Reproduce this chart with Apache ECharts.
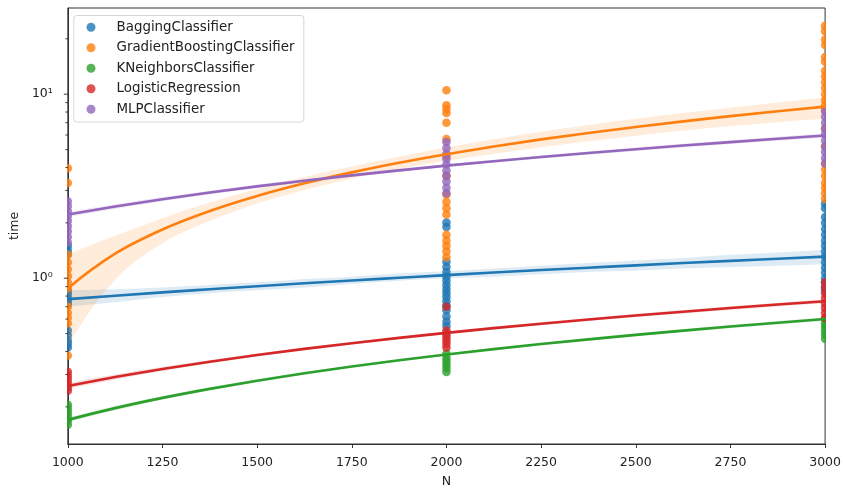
<!DOCTYPE html>
<html><head><meta charset="utf-8">
<script src="https://cdn.jsdelivr.net/npm/echarts@6/dist/echarts.min.js"></script>
<style>html,body{margin:0;padding:0;background:#fff}#c{width:844px;height:493px}</style>
</head><body><div id="c"></div>
<script>
// ---------- data ----------
const categories = ['BaggingClassifier','GradientBoostingClassifier','KNeighborsClassifier','LogisticRegression','MLPClassifier'];
const sampleSizes = [1000, 2000, 3000];

// observed times per sample size (N=1000, 2000, 3000)
const baggingTimes = [
  [1.50,1.42,1.35,0.86,0.82,0.78,0.75,0.72,0.52,0.49,0.46,0.44,0.42],
  [2.01,1.90,1.23,1.15,1.08,1.02,0.97,0.92,0.87,0.83,0.79,0.75,0.71,0.67,0.62,0.58,0.55],
  [2.55,2.40,2.15,2.00,1.85,1.72,1.60,1.50,1.40,1.31,1.22,1.14,1.07,1.00,0.95,0.90,0.86]
];
const boostingTimes = [
  [3.96,3.29,1.34,1.22,1.12,1.03,0.95,0.88,0.70,0.65,0.61,0.57,0.38],
  [10.5,8.7,8.3,7.9,7.0,5.7,4.6,3.6,2.85,2.6,2.4,2.22,1.72,1.6,1.5,1.4,1.3],
  [23.5,22.0,19.8,18.5,15.9,15.0,13.4,12.5,11.6,10.8,10.0,9.3,8.7,8.3,6.5,5.2,4.2,3.9,3.6,3.3,3.1,2.9,2.7]
];
const knnTimes = [
  [0.205,0.195,0.186,0.177,0.168,0.160],
  [0.39,0.37,0.355,0.34,0.325,0.31],
  [0.60,0.57,0.545,0.52,0.495,0.47]
];
const logregTimes = [
  [0.31,0.295,0.282,0.268,0.256,0.245],
  [0.70,0.52,0.50,0.48,0.46,0.44,0.42],
  [0.95,0.89,0.83,0.78,0.73,0.69,0.65,0.61]
];
const mlpTimes = [
  [2.62,2.47,2.32,2.18,2.05,1.92,1.80,1.68,1.57],
  [5.5,5.1,4.75,4.45,4.15,3.85,3.6,3.35,3.1,2.9],
  [8.1,7.55,7.0,6.5,6.05,5.6,5.2,4.85,4.5,4.2]
];

// regression lines and confidence bands
const fitN = [1000,1125,1250,1375,1500,1625,1750,1875,2000,2125,2250,2375,2500,2625,2750,2875,3000];
const baggingFit  = [0.770,0.804,0.838,0.871,0.905,0.939,0.973,1.006,1.040,1.074,1.108,1.141,1.175,1.209,1.243,1.276,1.310];
const baggingLow  = [0.70,0.74,0.79,0.83,0.86,0.89,0.93,0.97,1.00,1.02,1.05,1.08,1.10,1.13,1.15,1.17,1.19];
const baggingHigh = [0.86,0.87,0.89,0.92,0.95,0.99,1.02,1.06,1.09,1.13,1.17,1.21,1.25,1.29,1.34,1.38,1.43];
const boostingFit  = [0.88,1.36,1.84,2.32,2.80,3.28,3.76,4.24,4.72,5.20,5.68,6.16,6.64,7.12,7.60,8.08,8.56];
const boostingLow  = [0.43,0.98,1.55,2.05,2.55,3.02,3.48,3.92,4.35,4.75,5.15,5.55,5.95,6.35,6.70,7.05,7.35];
const boostingHigh = [1.35,1.70,2.12,2.58,3.05,3.55,4.05,4.57,5.15,5.70,6.25,6.80,7.35,7.90,8.45,9.00,9.60];
const knnFit  = [0.1700,0.1969,0.2238,0.2506,0.2775,0.3044,0.3313,0.3581,0.3850,0.4119,0.4388,0.4656,0.4925,0.5194,0.5463,0.5731,0.6000];
const knnLow  = [0.165,0.192,0.219,0.246,0.273,0.299,0.326,0.353,0.380,0.406,0.432,0.458,0.484,0.509,0.535,0.561,0.586];
const knnHigh = [0.175,0.202,0.229,0.256,0.283,0.309,0.336,0.363,0.390,0.418,0.446,0.474,0.502,0.529,0.557,0.585,0.614];
const logregFit  = [0.2600,0.2906,0.3213,0.3519,0.3825,0.4131,0.4438,0.4744,0.5050,0.5356,0.5663,0.5969,0.6275,0.6581,0.6888,0.7194,0.7500];
const logregLow  = [0.250,0.282,0.313,0.345,0.376,0.406,0.437,0.467,0.497,0.527,0.556,0.586,0.615,0.644,0.673,0.702,0.731];
const logregHigh = [0.270,0.300,0.329,0.359,0.390,0.420,0.451,0.481,0.513,0.545,0.576,0.608,0.641,0.672,0.705,0.736,0.769];
const mlpFit  = [2.220,2.454,2.688,2.921,3.155,3.389,3.623,3.856,4.090,4.324,4.558,4.791,5.025,5.259,5.493,5.726,5.960];
const mlpLow  = [2.15,2.38,2.62,2.85,3.09,3.32,3.55,3.79,4.02,4.24,4.47,4.69,4.92,5.14,5.36,5.58,5.80];
const mlpHigh = [2.29,2.52,2.76,2.99,3.23,3.46,3.69,3.93,4.16,4.40,4.65,4.89,5.14,5.38,5.62,5.88,6.12];

const yMajorTicks = [1, 10];
const yMinorTicks = [0.2,0.3,0.4,0.5,0.6,0.7,0.8,0.9,2,3,4,5,6,7,8,9,20];

// ---------- style ----------
const FONT = 'DejaVu Sans';
const palette = ['#1f77b4','#ff7f0e','#2ca02c','#d62728','#9467bd'];
const INK = '#222';
function rgba(hex, a){
  const n = parseInt(hex.slice(1),16);
  return 'rgba('+((n>>16)&255)+','+((n>>8)&255)+','+(n&255)+','+a+')';
}
const groups = [
  {times: baggingTimes,  fit: baggingFit,  low: baggingLow,  high: baggingHigh},
  {times: boostingTimes, fit: boostingFit, low: boostingLow, high: boostingHigh},
  {times: knnTimes,      fit: knnFit,      low: knnLow,      high: knnHigh},
  {times: logregTimes,   fit: logregFit,   low: logregLow,   high: logregHigh},
  {times: mlpTimes,      fit: mlpFit,      low: mlpLow,      high: mlpHigh}
];

// Catmull-Rom cubic segments through pixel points (quadratic end tangents)
function curveThrough(pts){
  const n = pts.length;
  const ext = (a, b, c) => [3 * a[0] - 3 * b[0] + c[0], 3 * a[1] - 3 * b[1] + c[1]];
  const P = k => {
    if (k < 0) return n >= 3 ? ext(pts[0], pts[1], pts[2]) : pts[0];
    if (k >= n) return n >= 3 ? ext(pts[n - 1], pts[n - 2], pts[n - 3]) : pts[n - 1];
    return pts[k];
  };
  let d = '';
  for (let k = 0; k < n - 1; k++){
    const p0 = P(k - 1), p1 = P(k), p2 = P(k + 1), p3 = P(k + 2);
    const c1 = [p1[0] + (p2[0] - p0[0]) / 6, p1[1] + (p2[1] - p0[1]) / 6];
    const c2 = [p2[0] - (p3[0] - p1[0]) / 6, p2[1] - (p3[1] - p1[1]) / 6];
    d += ' C' + c1[0] + ',' + c1[1] + ' ' + c2[0] + ',' + c2[1] + ' ' + p2[0] + ',' + p2[1];
  }
  return d;
}

const series = [];
groups.forEach((g, i) => {
  const pts = [];
  g.times.forEach((arr, j) => arr.forEach(v => pts.push([sampleSizes[j], v])));
  series.push({
    type: 'custom', name: categories[i], data: pts, clip: true, z: 2, silent: true,
    itemStyle: {color: rgba(palette[i], 0.8)},
    renderItem: function(params, api){
      const p = api.coord([api.value(0), api.value(1)]);
      return {type: 'circle', shape: {cx: p[0], cy: p[1], r: 4.3}, style: {fill: rgba(palette[i], 0.8)}};
    }
  });
  series.push({
    type: 'custom', name: categories[i] + ' ci', data: [[fitN[0], g.fit[0]]], z: 2, silent: true, clip: true,
    renderItem: function(params, api){
      const upper = g.high.map((v, k) => api.coord([fitN[k], v]));
      const lower = g.low.map((v, k) => api.coord([fitN[k], v])).reverse();
      const d = 'M' + upper[0][0] + ',' + upper[0][1] + curveThrough(upper) +
                ' L' + lower[0][0] + ',' + lower[0][1] + curveThrough(lower) + ' Z';
      return {type: 'path', shape: {pathData: d}, style: {fill: rgba(palette[i], 0.15)}};
    }
  });
});
// regression lines, drawn through the same axis scales with the same smooth curve as the bands
groups.forEach((g, i) => {
  series.push({
    type: 'custom', name: categories[i] + ' fit', data: [[fitN[0], g.fit[0]]], z: 3, silent: true, clip: true,
    renderItem: function(params, api){
      const line = g.fit.map((v, k) => api.coord([fitN[k], v]));
      const d = 'M' + line[0][0] + ',' + line[0][1] + curveThrough(line);
      return {type: 'path', shape: {pathData: d},
              style: {fill: 'none', stroke: palette[i], lineWidth: 2.6, lineCap: 'round', lineJoin: 'round'}};
    }
  });
});
function tickSeries(values, len){
  return {
    type: 'custom', data: values.map(v => [1000, v]), z: 4, silent: true, clip: false,
    renderItem: function(params, api){
      const p = api.coord([api.value(0), api.value(1)]);
      return {type: 'line', shape: {x1: p[0] - len, y1: p[1], x2: p[0], y2: p[1]}, style: {stroke: INK, lineWidth: 0.9}};
    }
  };
}
series.push(tickSeries(yMajorTicks, 4));
series.push(tickSeries(yMinorTicks, 2.4));

const sup = {'0':'\u2070','1':'\u00b9','2':'\u00b2','3':'\u00b3','-':'\u207b'};

const option = {
  animation: false,
  textStyle: {fontFamily: FONT},
  grid: {left: 66, right: 18, top: 8, bottom: 41, show: true, borderColor: '#333', borderWidth: 1, backgroundColor: 'transparent'},
  xAxis: {
    type: 'value', min: 1000, max: 3000, interval: 250,
    name: 'N', nameLocation: 'middle', nameGap: 31,
    nameTextStyle: {fontFamily: FONT, fontSize: 12.5, color: INK},
    axisLine: {show: true, lineStyle: {color: '#333', width: 1}},
    axisTick: {show: true, length: 4, lineStyle: {color: INK, width: 0.9}},
    axisLabel: {fontFamily: FONT, fontSize: 12.5, color: INK, margin: 12, formatter: v => String(v)},
    splitLine: {show: false}
  },
  yAxis: {
    type: 'log', logBase: 10, min: 0.1257, max: 29.4,
    name: 'time', nameLocation: 'middle', nameGap: 38,
    nameTextStyle: {fontFamily: FONT, fontSize: 12.5, color: INK},
    axisLine: {show: true, lineStyle: {color: '#333', width: 1}},
    axisTick: {show: false},
    axisLabel: {
      fontFamily: FONT, fontSize: 12.5, color: INK, margin: 15, showMinLabel: true, showMaxLabel: true,
      formatter: function(v){
        const l = Math.log10(v); const r = Math.round(l);
        if (Math.abs(l - r) > 1e-6) return '';
        return '10' + String(r).split('').map(c => sup[c]).join('');
      }
    },
    splitLine: {show: false}
  },
  legend: {
    data: categories.map((c, i) => ({name: c, itemStyle: {color: rgba(palette[i], 0.8)}})),
    orient: 'vertical', left: 86.5, top: 19.3, padding: 0,
    itemWidth: 25, itemHeight: 9, itemGap: 4.5, icon: 'circle',
    textStyle: {fontFamily: FONT, fontSize: 13.4, color: INK, lineHeight: 16, padding: [0, 0, 0, 8]},
    z: 20
  },
  graphic: [{
    type: 'rect', left: 73.3, top: 15, z: 15, silent: true,
    shape: {width: 230, height: 106.5, r: 3},
    style: {fill: 'rgba(255,255,255,0.8)', stroke: '#d6d6d6', lineWidth: 1}
  }],
  series: series
};
const chart = echarts.init(document.getElementById('c'), null, {renderer: 'canvas'});
chart.setOption(option);
</script>
</body></html>
